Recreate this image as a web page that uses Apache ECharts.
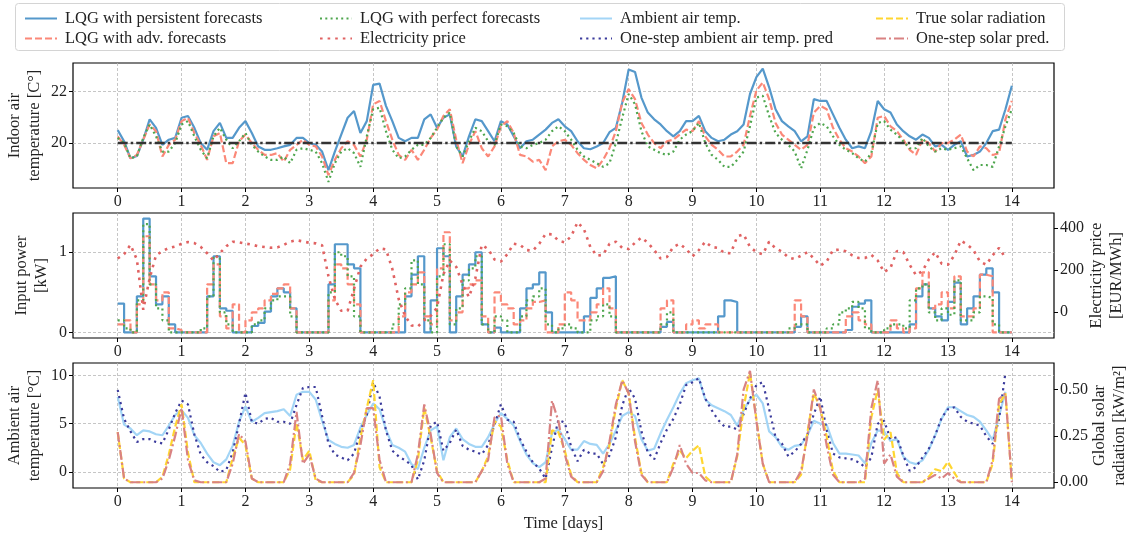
<!DOCTYPE html>
<html>
<head>
<meta charset="utf-8">
<script src="https://cdn.jsdelivr.net/npm/echarts@6/dist/echarts.min.js"></script>
<style>html,body{margin:0;padding:0;background:#fff;}#c{width:1134px;height:536px;}</style>
</head>
<body>
<div id="c"></div>
<script>
// ---- data (sampled every 0.1 day) ----
const sampleStep = 0.1;
const dayTicks = [0,1,2,3,4,5,6,7,8,9,10,11,12,13,14];
const tempTicks = [20,22];
const powerTicks = [0,1];
const priceTicks = [0,200,400];
const ambientTicks = [0,5,10];
const solarTicks = [0,0.25,0.5];
const setpointTemp = 20;

const tempPersistent = [20.5,20.07,19.41,19.5,20.13,20.92,20.59,19.93,20.13,20.2,
 20.98,21.05,20.59,20.0,19.74,20.46,20.78,20.2,20.2,20.59,
 20.85,20.39,19.87,19.74,19.74,19.8,19.87,19.93,20.2,20.2,
 20.0,19.93,19.67,18.95,19.67,20.33,20.98,21.24,20.39,20.85,
 22.25,22.3,21.44,20.85,20.2,20.07,20.2,20.2,20.92,21.11,
 20.59,20.98,21.11,19.87,19.48,20.26,20.92,20.85,20.46,20.07,
 20.85,20.72,20.26,19.8,20.07,20.13,20.33,20.52,20.78,20.92,
 20.65,20.46,20.07,19.8,19.76,19.87,20.0,20.42,20.59,21.57,
 22.85,22.75,21.76,21.18,20.92,20.72,20.46,20.26,20.46,20.85,
 20.85,21.05,20.46,20.2,20.07,20.13,20.33,20.46,20.72,21.9,
 22.55,22.88,22.16,21.31,20.85,20.65,20.46,20.07,20.26,21.7,
 21.63,21.63,21.11,20.59,20.13,19.8,19.87,19.8,20.46,21.63,
 21.31,21.18,20.72,20.46,20.26,20.13,20.33,20.2,19.87,19.93,
 19.74,19.93,20.07,19.48,19.54,19.67,20.0,20.46,20.52,21.31,
 22.22];
const tempAdv = [20.26,19.93,19.41,19.54,20.13,20.72,20.46,19.48,19.93,20.13,
 20.85,20.98,20.39,19.93,19.35,20.26,20.39,19.22,19.22,20.07,
 20.33,20.0,19.74,19.54,19.54,19.61,19.28,19.74,19.93,20.13,
 19.93,19.87,19.48,18.76,19.35,19.8,20.07,19.93,19.48,20.13,
 21.5,21.63,20.85,20.13,19.54,19.35,19.74,19.35,19.74,20.2,
 20.52,21.05,21.31,20.13,19.22,19.93,20.46,19.8,19.48,19.87,
 20.65,20.85,20.39,19.54,19.48,19.28,19.35,18.95,19.87,20.07,
 20.13,19.93,19.61,19.35,19.15,19.02,19.35,19.8,20.46,21.57,
 22.09,21.7,20.78,20.33,20.0,19.8,20.07,20.13,20.33,20.52,
 20.46,20.85,20.26,19.93,19.74,19.48,19.48,19.67,19.93,21.05,
 22.03,22.35,21.7,20.78,20.33,20.13,19.93,19.74,19.93,21.18,
 21.44,21.31,20.59,20.13,19.8,19.67,19.48,19.22,19.48,20.98,
 21.05,20.65,20.46,20.13,19.74,19.54,20.13,20.0,19.67,20.0,
 20.0,20.13,20.33,19.67,19.48,19.87,19.8,19.54,19.61,20.92,
 21.63];
const tempPerfect = [20.2,20.0,19.41,19.48,20.2,20.72,20.26,19.67,19.67,20.0,
 20.72,20.85,20.26,19.74,19.41,20.26,20.59,20.13,19.8,20.07,
 20.39,19.93,19.67,19.48,19.35,19.35,19.48,19.22,19.74,19.8,
 19.74,19.67,19.22,18.5,19.22,19.67,19.8,19.61,19.08,20.26,
 21.31,21.37,20.46,19.74,19.41,19.48,19.74,19.93,19.93,20.2,
 20.59,20.98,21.18,19.87,19.48,20.07,20.59,20.46,20.07,19.93,
 20.72,20.65,20.39,19.87,19.8,19.93,20.0,20.13,20.46,20.65,
 20.46,20.13,19.74,19.48,19.35,19.22,19.08,19.22,20.0,20.98,
 21.9,21.5,20.46,19.87,19.74,19.61,19.54,19.67,20.13,20.33,
 20.46,20.78,20.0,19.54,19.35,19.08,19.08,19.35,19.67,20.65,
 21.76,21.83,21.05,20.39,20.13,19.93,19.67,19.02,19.74,20.59,
 20.78,20.65,20.26,19.93,19.74,19.61,19.41,19.28,19.61,20.78,
 20.85,20.52,20.33,20.07,19.8,19.8,20.2,19.87,19.67,19.8,
 19.74,19.8,19.87,19.41,18.95,19.15,19.15,19.08,19.87,20.65,
 21.31];

const powerPersistent = [0.36,0,0,0.45,1.42,0.7,0.35,0.45,0.1,0,
 0,0,0,0,0.45,0.95,0.3,0.27,0,0,
 0,0.08,0.12,0.26,0.45,0.55,0.5,0.3,0,0,
 0,0,0,0.6,1.1,1.1,0.85,0.8,0,0,
 0,0,0,0,0,0.45,0.72,0.95,0,0.4,
 1.05,0.95,0,0.45,0.72,0.85,1.0,0.1,0,0.06,
 0,0,0,0.3,0.55,0.6,0.75,0.25,0,0,
 0,0,0,0.2,0.43,0.55,0.68,0.7,0,0,
 0,0,0,0,0,0.07,0.13,0,0,0,
 0,0,0,0,0.2,0.4,0.38,0,0,0,
 0,0,0,0,0,0,0.07,0.2,0,0,
 0,0,0,0,0.03,0.32,0.36,0.4,0,0,
 0,0,0,0,0.1,0.45,0.6,0.3,0.2,0.15,
 0.38,0.62,0.1,0.3,0.45,0.72,0.8,0.5,0,0,
 0];
const powerAdv = [0.1,0.15,0,0.35,1.2,0.6,0.4,0.5,0.05,0.03,
 0,0,0,0,0.6,0.85,0.2,0.05,0.35,0,
 0.15,0.25,0.3,0.4,0.48,0.55,0.6,0.3,0,0,
 0,0,0,0.4,0.85,0.8,0.6,0.35,0,0,
 0,0,0,0,0.2,0.5,0.6,0.75,0.2,0.1,
 0.8,1.25,0.15,0.25,0.55,0.6,0.65,0.2,0,0.5,
 0.35,0.3,0.1,0.15,0.3,0.38,0.4,0,0,0.1,
 0.5,0.4,0.15,0.15,0.25,0.35,0.55,0.3,0,0,
 0,0,0,0,0,0.3,0.4,0,0,0.1,
 0.15,0.05,0.1,0.1,0,0,0,0,0,0,
 0,0,0,0,0,0,0.4,0.2,0,0,
 0,0,0,0,0.2,0.25,0.15,0.1,0,0,
 0,0.15,0.05,0,0.05,0.55,0.75,0.3,0.35,0.5,
 0.3,0.7,0.2,0.2,0.3,0.72,0.7,0,0,0,
 0];
const powerPerfect = [0.15,0.05,0,0.4,1.35,0.6,0.3,0.15,0,0,
 0,0,0,0.05,0.45,0.95,0.25,0.1,0,0,
 0,0.1,0.15,0.3,0.4,0.45,0.45,0.2,0,0,
 0,0,0,0.5,1.0,0.95,0.7,0.2,0,0,
 0,0,0,0.1,0.35,0.55,0.9,0.6,0.15,0,
 0.7,1.1,0.1,0.3,0.65,0.8,0.95,0.1,0,0.2,
 0.15,0,0,0.2,0.4,0.45,0.55,0.1,0,0.05,
 0.1,0.05,0,0,0.15,0.2,0.35,0.2,0,0,
 0,0,0,0,0,0.1,0.25,0,0,0,
 0,0,0,0,0,0,0,0,0,0,
 0,0,0,0,0,0.05,0.1,0.1,0,0,
 0,0.05,0.1,0.25,0.3,0.38,0.3,0.05,0,0,
 0.05,0.1,0.1,0.05,0.4,0.55,0.6,0.25,0.15,0.3,
 0.22,0.65,0.15,0.15,0.25,0.45,0.43,0.1,0,0,
 0];
const electricityPrice = [255,275,320,250,10,160,270,290,305,312,
 325,333,328,310,280,245,280,313,335,332,
 326,321,313,310,306,308,320,335,342,336,
 330,327,318,170,60,5,5,110,215,255,
 275,303,298,205,60,-20,-65,-70,-40,-20,
 20,180,245,215,130,70,160,320,300,250,
 240,275,325,320,295,292,325,372,370,340,
 332,360,428,395,310,268,272,325,335,305,
 300,330,355,330,295,255,262,310,325,300,
 265,295,335,310,305,281,280,360,370,310,
 285,275,335,303,288,260,252,268,285,255,
 220,240,295,297,289,270,257,257,272,245,
 190,210,290,285,225,175,195,250,285,230,
 225,270,340,322,295,240,225,270,305,257,
 null];

const ambientTemp = [7.8,4.9,4.5,3.8,4.3,4.2,3.9,3.8,4.8,5.9,
 6.4,5.6,3.8,3.0,1.9,1.0,0.7,1.3,2.7,5.2,
 6.8,5.2,5.6,6.1,6.2,6.3,6.5,5.8,8.0,8.3,
 8.3,7.5,5.3,3.3,2.9,2.6,2.5,2.8,4.6,5.9,
 7.1,6.5,4.4,2.8,2.5,2.1,0.8,0.3,2.5,4.3,
 4.7,1.2,3.6,4.5,3.4,2.9,2.6,2.6,3.6,5.0,
 6.1,5.5,4.8,3.2,1.8,0.9,0.5,1.0,4.0,4.4,
 3.4,2.3,2.3,3.2,2.9,2.8,1.9,2.9,4.3,5.8,
 6.2,5.8,3.4,2.2,2.4,4.0,5.4,6.7,8.1,9.2,
 9.5,9.7,7.5,6.9,6.6,6.3,5.9,4.8,6.4,7.5,
 8.0,7.1,4.2,3.6,2.6,2.3,2.7,2.8,3.8,5.3,
 5.0,4.9,3.0,1.9,1.9,1.8,1.7,0.9,3.0,4.3,
 4.2,3.2,3.4,1.6,1.0,0.8,1.2,2.3,3.8,5.5,
 6.7,6.7,6.3,5.9,5.7,5.2,4.3,3.3,5.8,8.3,
 null];
const ambientPred = [8.5,5.5,4.2,3.1,3.4,3.4,3.1,2.95,4.4,6.1,
 7.4,7.0,3.9,1.8,1.0,0.6,0.0,0.2,2.0,5.0,
 8.2,5.2,5.0,5.5,5.6,5.2,5.2,5.0,6.95,8.7,
 8.8,8.8,5.8,2.95,1.8,1.5,1.2,1.9,4.2,5.9,
 9.3,7.8,4.3,2.2,1.6,1.2,0.7,-0.8,1.2,4.8,
 5.2,2.2,3.0,4.4,2.7,2.3,2.1,1.8,2.8,4.9,
 7.0,5.4,5.2,3.4,2.1,1.0,0.35,-0.7,2.5,5.4,
 5.1,2.6,1.1,2.3,1.9,1.9,0.8,1.7,3.6,6.9,
 8.7,7.6,4.2,2.0,1.3,3.0,4.4,5.5,7.0,9.0,
 9.3,9.7,7.6,6.4,5.4,4.7,4.7,4.4,6.0,7.6,
 9.0,9.3,6.5,3.6,2.95,1.6,2.1,2.9,3.9,6.0,
 7.8,4.35,1.9,1.5,1.4,1.3,1.0,0.5,1.5,5.0,
 5.3,3.4,3.6,1.7,0.1,0.5,1.5,2.4,3.8,5.6,
 6.5,6.7,5.7,5.2,5.0,4.8,3.7,2.9,5.5,10.3,
 null];
const solarTrue = [0.27,0.02,0,0,0,0,0,0.03,0.15,0.3,
 0.42,0.16,0,0,0,0,0,0,0.13,0.24,
 0.2,0.02,0,0,0,0,0,0.07,0.32,0.12,
 0.17,0.01,0,0,0,0,0,0.04,0.24,0.4,
 0.55,0.08,0,0,0,0,0,0.12,0.4,0.24,
 0.06,0,0,0,0,0,0,0.06,0.14,0.33,
 0.3,0.12,0,0,0,0,0,0,0.28,0.27,
 0.17,0.04,0,0,0,0,0.08,0.2,0.4,0.55,
 0.48,0.24,0.05,0,0,0,0,0.1,0.17,0.13,
 0.17,0.2,0.03,0,0,0,0,0.14,0.4,0.59,
 0.34,0.1,0,0,0,0,0,0.04,0.27,0.48,
 0.4,0.25,0.06,0,0,0,0,0,0.35,0.5,
 0.23,0.27,0.05,0,0,0,0,0.03,0.07,0.06,
 0.11,0.05,0,0,0,0,0,0.1,0.42,0.48,
 0];
const solarPred = [0.27,0.02,0,0,0,0,0,0.02,0.12,0.25,
 0.4,0.12,0.01,0,0,0,0,0,0.1,0.26,
 0.22,0.02,0,0,0,0,0,0.1,0.38,0.1,
 0.15,0.02,0,0,0,0,0,0.05,0.2,0.4,
 0.4,0.12,0,0,0,0,0,0.15,0.42,0.26,
 0.05,0,0,0,0,0,0,0.06,0.12,0.35,
 0.36,0.1,0,0,0,0,0,0.02,0.44,0.33,
 0.15,0.03,0,0,0,0,0.06,0.22,0.42,0.55,
 0.48,0.22,0.04,0,0,0,0,0.08,0.2,0.1,
 0.05,0.05,0.01,0,0,0,0,0.15,0.5,0.6,
 0.33,0.1,0,0,0,0,0,0.06,0.25,0.5,
 0.4,0.2,0.04,0,0,0,0,0.02,0.4,0.55,
 0.1,0.15,0.03,0,0,0,0,0.02,0.04,0.02,
 0.05,0.02,0,0,0,0,0,0.12,0.45,0.48,
 0];

// ---- helpers ----
function pairs(vals){
  const out=[];
  vals.forEach((v,i)=>{ if(v!==null) out.push([+(i*sampleStep).toFixed(2), v]); });
  return out;
}
const FONT = 'Liberation Serif';
const TXT = '#222';
const gridL = 73, gridR = 80, gridH = 125;
const tops = [63, 213, 363];

function xAxis(i, withName){
  return {
    type:'value', gridIndex:i, min:-0.7, max:14.66,
    axisLine:{show:false, onZero:false},
    axisTick:{show:true, length:4, lineStyle:{color:'#000'}, customValues:dayTicks},
    axisLabel:{show:true, customValues:dayTicks, color:TXT, fontFamily:FONT, fontSize:16, margin:6},
    splitLine:{show:true, lineStyle:{color:'#b8b8b8', width:0.8, type:[3,2]}},
    name: withName ? 'Time [days]' : '',
    nameLocation:'middle', nameGap:27, nameMoveOverlap:false,
    nameTextStyle:{color:TXT, fontFamily:FONT, fontSize:16.5}
  };
}
function yAxis(grid, min, max, ticks, name, pos, gap, fmt, grid2){
  return {
    type:'value', gridIndex:grid, min:min, max:max, position:pos,
    axisLine:{show:false, onZero:false},
    axisTick:{show:true, length:4, lineStyle:{color:'#000'}, customValues:ticks},
    axisLabel:{show:true, customValues:ticks, color:TXT, fontFamily:FONT, fontSize:16, margin:6,
      formatter: fmt || (v=>String(v))},
    splitLine:{show: grid2 !== false, lineStyle:{color:'#b8b8b8', width:0.8, type:[3,2]}},
    name:name, nameLocation:'middle', nameRotate:90, nameGap:gap, nameMoveOverlap:false,
    nameTextStyle:{color:TXT, fontFamily:FONT, fontSize:16.5, lineHeight:20}
  };
}
function line(name, xi, yi, data, color, width, type, extra){
  return Object.assign({
    name:name, type:'line', xAxisIndex:xi, yAxisIndex:yi, data:data,
    symbol:'none', showSymbol:false, silent:true,
    lineStyle:{color:color, width:width, type:type, cap:'butt'},
    itemStyle:{color:color}
  }, extra||{});
}

const C = {
  pers:'#5598cb', adv:'#fb8878', perf:'#4ea64e', price:'#e06262',
  amb:'#a3d5f6', ambPred:'#3b3b9c', sol:'#ffd630', solPred:'#d98282'
};

const chart = echarts.init(document.getElementById('c'), null, {renderer:'canvas'});
const legendCommon = {orient:'vertical', top:5, itemGap:3, itemWidth:32, itemHeight:14,
  itemStyle:{opacity:0},
  textStyle:{color:TXT, fontFamily:FONT, fontSize:16.5, padding:[0,0,0,3]}};
chart.setOption({
  animation:false,
  backgroundColor:'#fff',
  graphic:[{type:'rect', left:15, top:3, z:0, shape:{width:1049, height:47, r:3},
    style:{fill:'#fff', stroke:'#d4d4d4', lineWidth:1}}],
  legend:[
    Object.assign({left:19, data:['LQG with persistent forecasts','LQG with adv. forecasts']}, legendCommon),
    Object.assign({left:314, data:['LQG with perfect forecasts','Electricity price']}, legendCommon),
    Object.assign({left:574, data:['Ambient air temp.','One-step ambient air temp. pred']}, legendCommon),
    Object.assign({left:870, data:['True solar radiation','One-step solar pred.']}, legendCommon)
  ],
  grid: tops.map(t=>({left:gridL, right:gridR, top:t, height:gridH, show:true,
    outerBoundsMode:'none', containLabel:false,
    borderColor:'#000', borderWidth:1.2, backgroundColor:'transparent'})),
  xAxis:[xAxis(0,false), xAxis(1,false), xAxis(2,true)],
  yAxis:[
    yAxis(0, 18.26, 23.1, tempTicks, 'Indoor air\ntemperature [C°]', 'left', 28),
    yAxis(1, -0.07, 1.49, powerTicks, 'Input power\n[kW]', 'left', 21),
    yAxis(1, -125, 472, priceTicks, 'Electricity price\n[EUR/MWh]', 'right', 33, null, false),
    yAxis(2, -1.67, 11.29, ambientTicks, 'Ambient air\ntemperature [°C]', 'left', 28),
    yAxis(2, -0.031, 0.643, solarTicks, 'Global solar\nradiation [kW/m²]', 'right', 36, v=>v.toFixed(2), false)
  ],
  series:[
    line('LQG with persistent forecasts',0,0,pairs(tempPersistent),C.pers,2.2,'solid'),
    line('LQG with adv. forecasts',0,0,pairs(tempAdv),C.adv,2.2,[7,3]),
    line('LQG with perfect forecasts',0,0,pairs(tempPerfect),C.perf,2.2,[2,3.3]),
    line('setpoint',0,0,[[0,setpointTemp],[14,setpointTemp]],'#333',2.5,[10,3,2.5,3]),
    line('LQG with persistent forecasts',1,1,pairs(powerPersistent),C.pers,2.2,'solid',{step:'end'}),
    line('LQG with adv. forecasts',1,1,pairs(powerAdv),C.adv,2.2,[7,3],{step:'end'}),
    line('LQG with perfect forecasts',1,1,pairs(powerPerfect),C.perf,2.2,[2,3.3],{step:'end'}),
    line('Electricity price',1,2,pairs(electricityPrice),C.price,2.6,[2.6,5]),
    line('Ambient air temp.',2,3,pairs(ambientTemp),C.amb,2.2,'solid'),
    line('One-step ambient air temp. pred',2,3,pairs(ambientPred),C.ambPred,2.2,[2.2,4]),
    line('True solar radiation',2,4,pairs(solarTrue),C.sol,2.2,[7,3]),
    line('One-step solar pred.',2,4,pairs(solarPred),C.solPred,2.2,[10,3,2,3])
  ]
});
</script>
</body>
</html>
